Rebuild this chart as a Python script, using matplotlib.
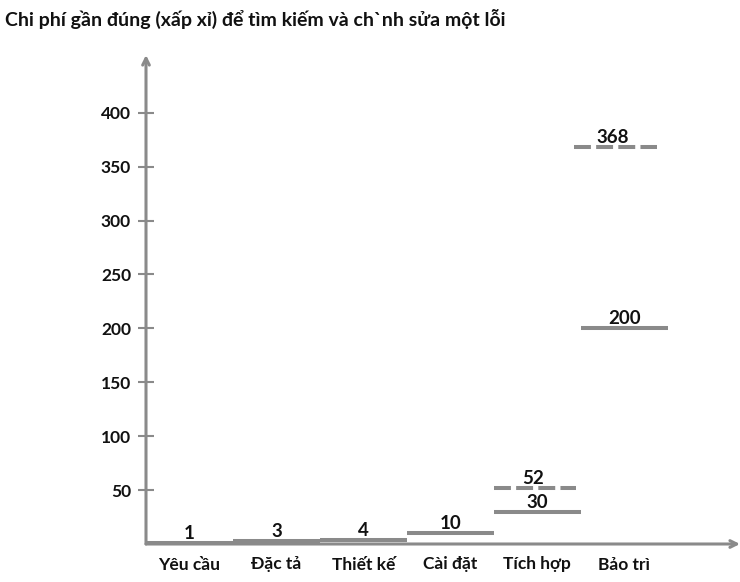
import matplotlib
matplotlib.use("Agg")
import matplotlib.pyplot as plt

plt.rcParams['font.family'] = ['Lato', 'DejaVu Sans']

# Phases of development and the approximate relative cost to find and fix one defect
phases = ["Yêu cầu", "Đặc tả", "Thiết kế", "Cài đặt", "Tích hợp", "Bảo trì"]
cost_solid = [1, 3, 4, 10, 30, 200]
cost_dashed_phase = ["Tích hợp", "Bảo trì"]
cost_dashed = [52, 368]
y_ticks = [50, 100, 150, 200, 250, 300, 350, 400]

title = "Chi phí gần đúng (xấp xỉ) để tìm kiếm và ch`nh sửa một lỗi"

gray = "#8a8a8a"
txt = "#111111"

fig = plt.figure(figsize=(7.4, 5.82), dpi=100)
ax = fig.add_axes([146 / 740, 38 / 582, 594 / 740, 489 / 582])
ax.set_xlim(0, 6.83)
ax.set_ylim(0, 453.6)

# solid level for each phase
for i, v in enumerate(cost_solid):
    ax.plot([i, i + 1], [v, v], color=gray, lw=2.9, solid_capstyle='butt', zorder=3)
    ax.text(i + 0.5, v + 1.0, str(v), ha='center', va='bottom', fontsize=13.5,
            fontweight='bold', color=txt, zorder=4)

# dashed levels (upper estimate)
for name, v in zip(cost_dashed_phase, cost_dashed):
    i = phases.index(name)
    x0 = i - 0.08 if v > 100 else i
    ax.plot([x0, x0 + 0.95], [v, v], color=gray, lw=2.9,
            linestyle=(0, (4.2, 1.3)), dash_capstyle='butt', zorder=3)
    ax.text(x0 + 0.45, v + 1.0, str(v), ha='center', va='bottom', fontsize=13.5,
            fontweight='bold', color=txt, zorder=4)

# axes drawn as arrows
for s in ax.spines.values():
    s.set_visible(False)
ax.annotate('', xy=(0, 1), xytext=(0, 0), xycoords='axes fraction',
            arrowprops=dict(arrowstyle='->', color=gray, lw=2.2,
                            shrinkA=0, shrinkB=0, mutation_scale=12))
ax.annotate('', xy=(1, 0), xytext=(0, 0), xycoords='axes fraction',
            arrowprops=dict(arrowstyle='->', color=gray, lw=2.2,
                            shrinkA=0, shrinkB=0, mutation_scale=12))

ax.set_yticks(y_ticks)
ax.set_yticklabels([str(t) for t in y_ticks], fontsize=12.5, fontweight='bold', color=txt)
ax.tick_params(axis='y', direction='inout', length=11.5, width=1.5, color=gray, pad=5)

ax.set_xticks([i + 0.5 for i in range(len(phases))])
ax.set_xticklabels(phases, fontsize=12.5, fontweight='bold', color=txt)
ax.tick_params(axis='x', length=0, pad=9)

fig.text(5 / 740, 1 - 19 / 582, title, ha='left', va='center', fontsize=14,
         fontweight='bold', color=txt)

fig.savefig("out.png", dpi=100)
